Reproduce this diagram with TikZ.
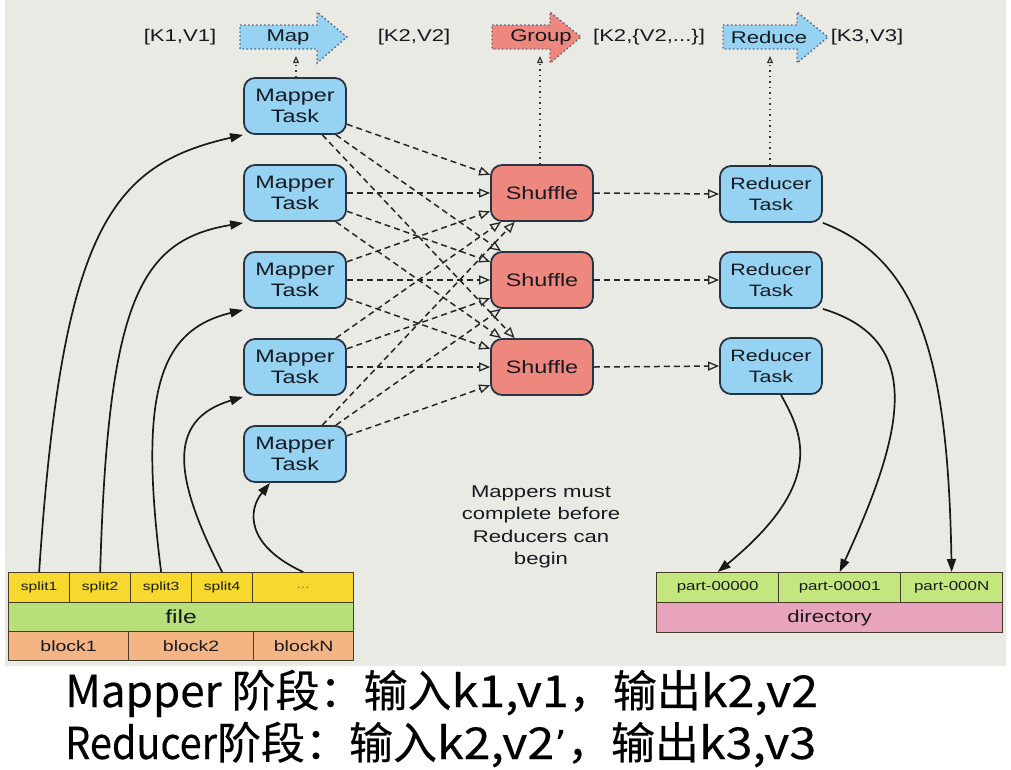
\documentclass[tikz,border=0pt]{standalone}
\usepackage{fontspec}
\setmainfont[FakeStretch=1.3]{Liberation Sans}
\newfontfamily\cjk[FakeBold=0.3]{Noto Sans CJK SC}
\newfontfamily\cjklat[FakeStretch=1.1,FakeBold=0.3]{Noto Sans CJK SC}
\newfontfamily\cjknarrow[FakeStretch=0.9,FakeBold=0.3]{Noto Sans CJK SC}
\newfontfamily\quotefont{DejaVu Sans}
\usetikzlibrary{arrows.meta}
\definecolor{bgpanel}{RGB}{234,234,229}
\definecolor{mapblue}{RGB}{150,210,242}
\definecolor{shufred}{RGB}{238,135,126}
\definecolor{taskborder}{RGB}{40,52,66}
\definecolor{txt}{RGB}{22,26,32}
\definecolor{splitY}{RGB}{246,216,46}
\definecolor{fileG}{RGB}{184,224,122}
\definecolor{blockO}{RGB}{245,180,132}
\definecolor{partG}{RGB}{196,230,126}
\definecolor{dirP}{RGB}{232,164,188}
\definecolor{cellborder}{RGB}{70,58,40}
\definecolor{arrowborder}{RGB}{90,100,120}
\tikzset{
  task/.style={draw=taskborder, line width=1.8pt, rounded corners=11pt,
    minimum width=102pt, minimum height=56pt, align=center, text=txt,
    font=\fontsize{18}{21}\selectfont},
  mapperbox/.style={task, fill=mapblue},
  shufbox/.style={task, fill=shufred},
  reducerbox/.style={task, fill=mapblue, font=\fontsize{16.5}{21}\selectfont},
  cell/.style={draw=cellborder, line width=1.3pt, inner sep=0pt, anchor=north west, text=txt},
  dasharrow/.style={draw=black!85, line width=1.5pt, dash pattern=on 6pt off 4pt,
    -{Triangle[open, length=11pt, width=9pt, line width=1.3pt, fill=bgpanel]}},
  dotarrow/.style={draw=black!80, line width=1.5pt, dash pattern=on 1.5pt off 4pt,
    -{Triangle[open, length=7pt, width=6pt, line width=1.2pt, fill=bgpanel]}},
  curvearrow/.style={draw=black!90, line width=1.7pt, -{Triangle[length=13pt, width=9pt]}},
  blockarrow/.style={draw=arrowborder, line width=1.4pt, dash pattern=on 1.5pt off 2.5pt},
  toplabel/.style={font=\fontsize{17}{20}\selectfont, text=txt},
  caption/.style={anchor=base west, inner sep=0pt, font=\cjk\fontsize{44}{48}\selectfont},
}
\begin{document}
\begin{tikzpicture}[x=1pt, y=-1pt]
\useasboundingbox (0,0) rectangle (1011,769);
\fill[white] (0,0) rectangle (1011,769);
\fill[bgpanel] (5,0) rectangle (1006,666);

% top block arrows
\draw[blockarrow, fill=mapblue] (240,25) -- (317,25) -- (317,12) -- (347,37) -- (317,63) -- (317,49) -- (240,49) -- cycle;
\draw[blockarrow, fill=shufred] (492,25) -- (550,25) -- (550,12) -- (581,37) -- (550,63) -- (550,49) -- (492,49) -- cycle;
\draw[blockarrow, fill=mapblue] (723,25) -- (797,25) -- (797,12) -- (828,37) -- (797,63) -- (797,49) -- (723,49) -- cycle;
\node[toplabel] (mapt) at (288,37) {Map};
\node[toplabel] (groupt) at (541,37) {Group};
\node[toplabel] (reducet) at (769,37) {Reduce};
\node[toplabel] (k1) at (180,37) {[K1,V1]};
\node[toplabel] (k2) at (414,37) {[K2,V2]};
\node[toplabel] (k2v) at (649,37) {[K2,\{V2,...\}]};
\node[toplabel] (k3) at (867,37) {[K3,V3]};
\coordinate (mapb) at (296,56);
\coordinate (groupb) at (540,56);
\coordinate (reduceb) at (770,56);

% tasks
\node[mapperbox] (m1) at (295,106) {Mapper\\Task};
\node[mapperbox] (m2) at (295,193) {Mapper\\Task};
\node[mapperbox] (m3) at (295,280) {Mapper\\Task};
\node[mapperbox] (m4) at (295,367) {Mapper\\Task};
\node[mapperbox] (m5) at (295,454) {Mapper\\Task};
\node[shufbox] (s1) at (542,193) {Shuffle};
\node[shufbox] (s2) at (542,280) {Shuffle};
\node[shufbox] (s3) at (542,367) {Shuffle};
\node[reducerbox] (r1) at (771,194) {Reducer\\Task};
\node[reducerbox] (r2) at (771,280) {Reducer\\Task};
\node[reducerbox] (r3) at (771,366) {Reducer\\Task};

% dotted up arrows
\draw[dotarrow] (m1.north -| mapb) -- (mapb);
\draw[dotarrow] (s1.north -| groupb) -- (groupb);
\draw[dotarrow] (r1.north -| reduceb) -- (reduceb);

% mapper -> shuffle
\foreach \i in {1,...,5}{
  \foreach \j in {1,2,3}{
    \draw[dasharrow] (m\i) -- (s\j);
  }
}
% shuffle -> reducer
\foreach \j in {1,2,3}{
  \draw[dasharrow] (s\j.east) -- (r\j.west);
}

% input table
\node[cell, fill=splitY, minimum width=61pt, minimum height=30pt, font=\fontsize{12}{14}\selectfont] (sp1) at (8,572) {split1};
\node[cell, fill=splitY, minimum width=61pt, minimum height=30pt, font=\fontsize{12}{14}\selectfont] (sp2) at (69,572) {split2};
\node[cell, fill=splitY, minimum width=61pt, minimum height=30pt, font=\fontsize{12}{14}\selectfont] (sp3) at (130,572) {split3};
\node[cell, fill=splitY, minimum width=61pt, minimum height=30pt, font=\fontsize{12}{14}\selectfont] (sp4) at (191,572) {split4};
\node[cell, fill=splitY, minimum width=101pt, minimum height=30pt, font=\fontsize{12}{14}\selectfont, text=black!55] (sp5) at (252,572) {...};
\node[cell, fill=fileG, minimum width=345pt, minimum height=29pt, font=\fontsize{19}{22}\selectfont] (file) at (8,602) {file};
\node[cell, fill=blockO, minimum width=120pt, minimum height=29pt, font=\fontsize{15}{18}\selectfont] (b1) at (8,631) {block1};
\node[cell, fill=blockO, minimum width=125pt, minimum height=29pt, font=\fontsize{15}{18}\selectfont] (b2) at (128,631) {block2};
\node[cell, fill=blockO, minimum width=100pt, minimum height=29pt, font=\fontsize{15}{18}\selectfont] (bn) at (253,631) {blockN};

% output table
\node[cell, fill=partG, minimum width=122pt, minimum height=30pt, font=\fontsize{13}{16}\selectfont] (p0) at (656,572) {part-00000};
\node[cell, fill=partG, minimum width=122pt, minimum height=30pt, font=\fontsize{13}{16}\selectfont] (p1) at (778,572) {part-00001};
\node[cell, fill=partG, minimum width=102pt, minimum height=30pt, font=\fontsize{13}{16}\selectfont] (pn) at (900,572) {part-000N};
\node[cell, fill=dirP, minimum width=346pt, minimum height=30pt, font=\fontsize{17}{20}\selectfont] (dir) at (656,602) {directory};

% input curves
\draw[curvearrow] (sp1.north) .. controls (62,230) and (110,165) .. (m1.south west);
\draw[curvearrow] (sp2.north) .. controls (108,300) and (140,240) .. ([yshift=-1pt]m2.south west);
\draw[curvearrow] (sp3.north) .. controls (138,390) and (160,330) .. ([yshift=-1pt]m3.south west);
\draw[curvearrow] (sp4.north) .. controls (175,480) and (165,420) .. ([yshift=-1pt]m4.south west);
\draw[curvearrow] (sp5.north) .. controls (245,545) and (248,510) .. ([xshift=-25pt]m5.south);

% output curves
\draw[curvearrow] (r1.south east) .. controls (920,260) and (948,360) .. (pn.north);
\draw[curvearrow] (r2.south east) .. controls (925,340) and (905,430) .. (p1.north);
\draw[curvearrow] ([xshift=10pt]r3.south) .. controls (800,430) and (830,480) .. (p0.north);

% note
\node[align=center, text=txt, font=\fontsize{17}{22.5}\selectfont] (note) at (541,527) {Mappers must\\complete before\\Reducers can\\begin};

% captions
\node[caption] (cap1) at (65,707) {Mapper 阶段：输入{\cjklat k1,v1}，输出{\cjklat k2,v2}};
\node[caption] (cap2) at (65,759) {{\cjknarrow Reducer}阶段：输入{\cjklat k2,v2}{\quotefont\fontsize{40}{44}\selectfont ’}，输出{\cjklat k3,v3}};
\end{tikzpicture}
\end{document}
